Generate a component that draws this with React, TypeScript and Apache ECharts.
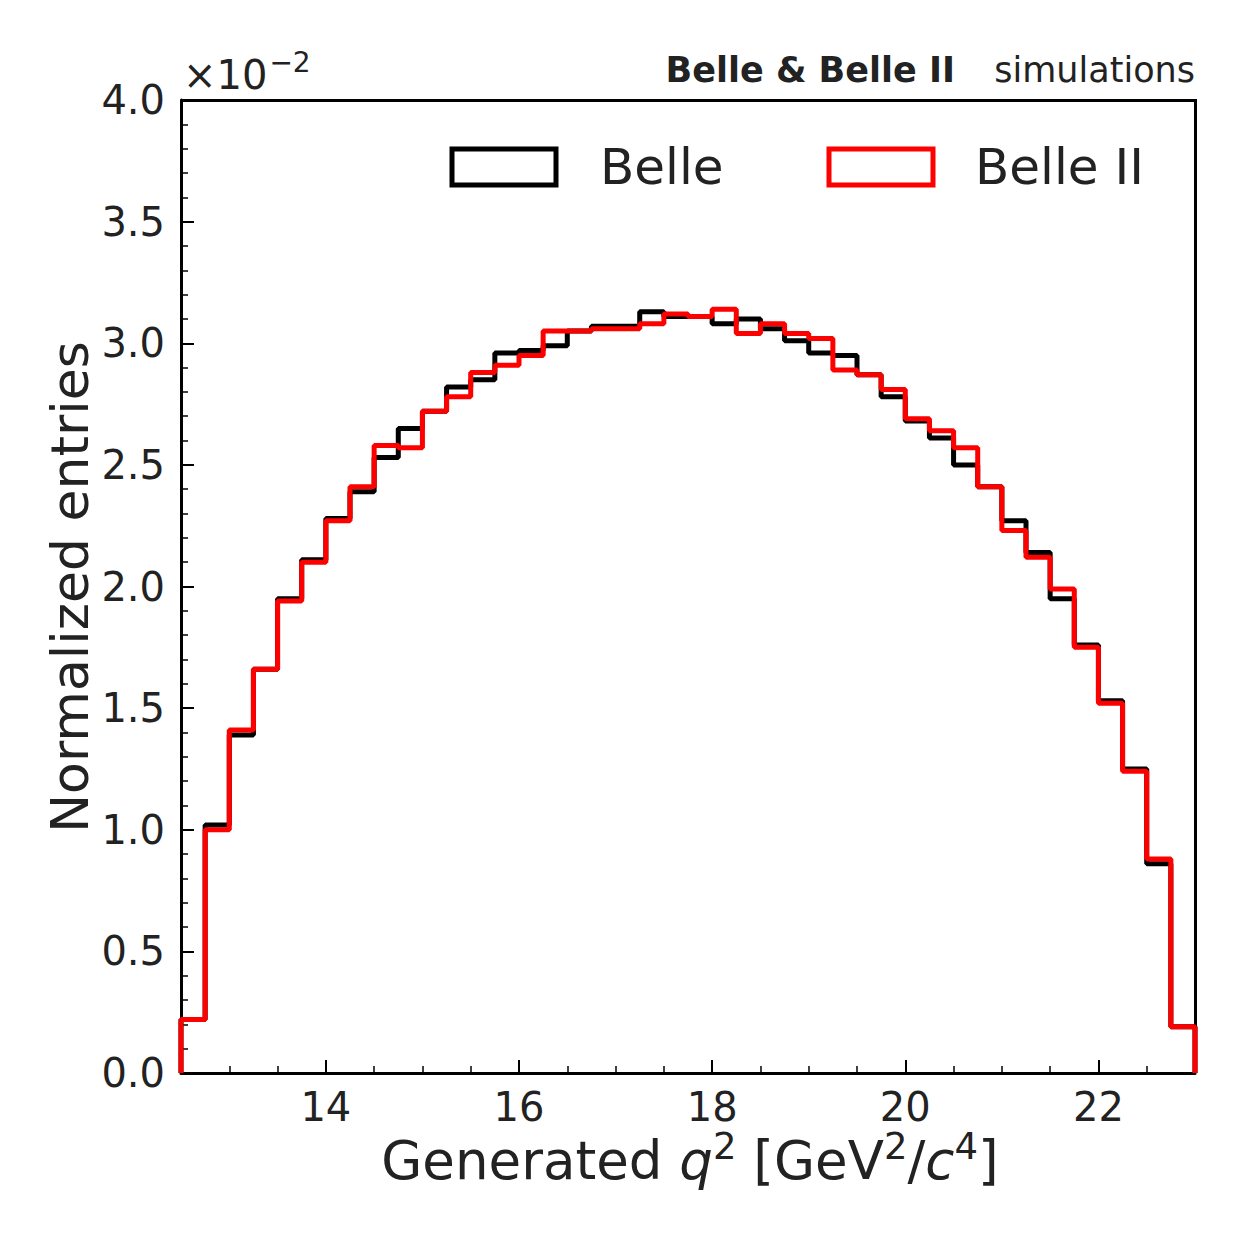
import React, { useEffect, useRef } from "react";
import * as echarts from "echarts";

const binStart = 12.5;
const binWidth = 0.25;
const belle = [0.22, 1.02, 1.39, 1.66, 1.95, 2.11, 2.28, 2.39, 2.53, 2.65, 2.72, 2.82, 2.85, 2.96, 2.97, 2.99, 3.05, 3.07, 3.07, 3.13, 3.11, 3.11, 3.08, 3.10, 3.06, 3.01, 2.96, 2.95, 2.87, 2.78, 2.68, 2.61, 2.50, 2.41, 2.27, 2.14, 1.95, 1.76, 1.53, 1.25, 0.86, 0.19];
const belle2 = [0.22, 1.00, 1.41, 1.66, 1.94, 2.10, 2.27, 2.41, 2.58, 2.57, 2.72, 2.78, 2.88, 2.91, 2.95, 3.05, 3.05, 3.06, 3.06, 3.08, 3.12, 3.11, 3.14, 3.04, 3.08, 3.04, 3.02, 2.89, 2.87, 2.81, 2.69, 2.64, 2.57, 2.41, 2.23, 2.12, 1.99, 1.75, 1.52, 1.24, 0.88, 0.19];
const xMajor = [14, 16, 18, 20, 22];
const xMinor = [13, 13.5, 14.5, 15, 15.5, 16.5, 17, 17.5, 18.5, 19, 19.5, 20.5, 21, 21.5, 22.5];

function steps(vals: number[]) {
  const pts: number[][] = [[binStart, 0]];
  vals.forEach((v, i) => {
    const lo = binStart + i * binWidth;
    pts.push([lo, v], [lo + binWidth, v]);
  });
  pts.push([binStart + vals.length * binWidth, 0]);
  return pts;
}

const FONT = "DejaVu Sans";
const TC = "#222";

export default function App() {
  const ref = useRef<HTMLDivElement>(null);
  useEffect(() => {
    const chart = echarts.init(ref.current!, null, { renderer: "svg" });
    const grid = { left: 181, top: 100, width: 1014, height: 973 };
    chart.setOption({
      animation: false,
      textStyle: { fontFamily: FONT },
      grid,
      xAxis: [
        {
          type: "value", min: 12.5, max: 23, interval: 0.5,
          axisLine: { lineStyle: { color: "#000", width: 3 } },
          splitLine: { show: false },
          axisTick: { customValues: xMajor, inside: true, length: 13, lineStyle: { color: "#000", width: 2 } },
          axisLabel: { customValues: xMajor, fontSize: 40, color: TC, margin: 14, fontFamily: FONT },
        },
        {
          type: "value", min: 12.5, max: 23, interval: 0.5, position: "bottom",
          axisLine: { show: false }, splitLine: { show: false },
          axisTick: { customValues: xMinor, inside: true, length: 7, lineStyle: { color: "#000", width: 1.5 } },
          axisLabel: { show: false },
        },
      ],
      yAxis: {
        type: "value", min: 0, max: 4, interval: 0.5,
        axisLine: { show: true, lineStyle: { color: "#000", width: 3 } },
        splitLine: { show: false },
        axisTick: { inside: true, length: 13, lineStyle: { color: "#000", width: 2 } },
        minorTick: { show: true, splitNumber: 5, length: 7, lineStyle: { color: "#000", width: 1.5 } },
        axisLabel: { fontSize: 40, color: TC, margin: 16, fontFamily: FONT, formatter: (v: number) => v.toFixed(1) },
      },
      series: [
        { type: "line", data: steps(belle), showSymbol: false, lineStyle: { color: "#000", width: 5 }, z: 2 },
        { type: "line", data: steps(belle2), showSymbol: false, lineStyle: { color: "#ff0000", width: 5 }, z: 3 },
      ],
      graphic: [
        { type: "rect", left: 181 + 1014 - 1, top: 100, shape: { width: 3, height: 973 }, style: { fill: "#000" } },
        { type: "rect", left: 181, top: 99, shape: { width: 1016, height: 3 }, style: { fill: "#000" } },
        { type: "rect", shape: { x: 452, y: 149, width: 104, height: 36 }, style: { fill: "none", stroke: "#000", lineWidth: 5 } },
        { type: "text", x: 600, y: 167, style: { text: "Belle", font: `50px ${FONT}`, fill: TC, verticalAlign: "middle" } },
        { type: "rect", shape: { x: 829, y: 149, width: 104, height: 36 }, style: { fill: "none", stroke: "#ff0000", lineWidth: 5 } },
        { type: "text", x: 975, y: 167, style: { text: "Belle II", font: `50px ${FONT}`, fill: TC, verticalAlign: "middle" } },
        { type: "text", x: 955, y: 70, style: { text: "Belle & Belle II", font: `bold 35px ${FONT}`, fill: TC, align: "right", verticalAlign: "middle" } },
        { type: "text", x: 1195, y: 70, style: { text: "simulations", font: `35px ${FONT}`, fill: TC, align: "right", verticalAlign: "middle" } },
        { type: "text", x: 183, y: 75, style: { text: "×10{s|−2}", font: `40px ${FONT}`, fill: TC, verticalAlign: "middle",
          rich: { s: { fontSize: 28, fontFamily: FONT, fill: TC, verticalAlign: "bottom", padding: [0, 0, 26, 2] } } } },
        { type: "text", x: 70, y: 587, rotation: Math.PI / 2, style: { text: "Normalized entries", font: `52px ${FONT}`, fill: TC, align: "center", verticalAlign: "middle" } },
        { type: "text", x: 690, y: 1160, style: { text: "Generated {i|q}{s|2} [GeV{s|2}/{i|c}{s|4}]", font: `53px ${FONT}`, fill: TC, align: "center", verticalAlign: "middle",
          rich: { i: { fontSize: 53, fontStyle: "italic", fontFamily: FONT, fill: TC }, s: { fontSize: 37, fontFamily: FONT, fill: TC, padding: [0, 0, 28, 0] } } } },
      ],
    });
    return () => chart.dispose();
  }, []);
  return <div ref={ref} style={{ position: "fixed", left: 0, top: 0, width: 1242, height: 1242, background: "#fff" }} />;
}
